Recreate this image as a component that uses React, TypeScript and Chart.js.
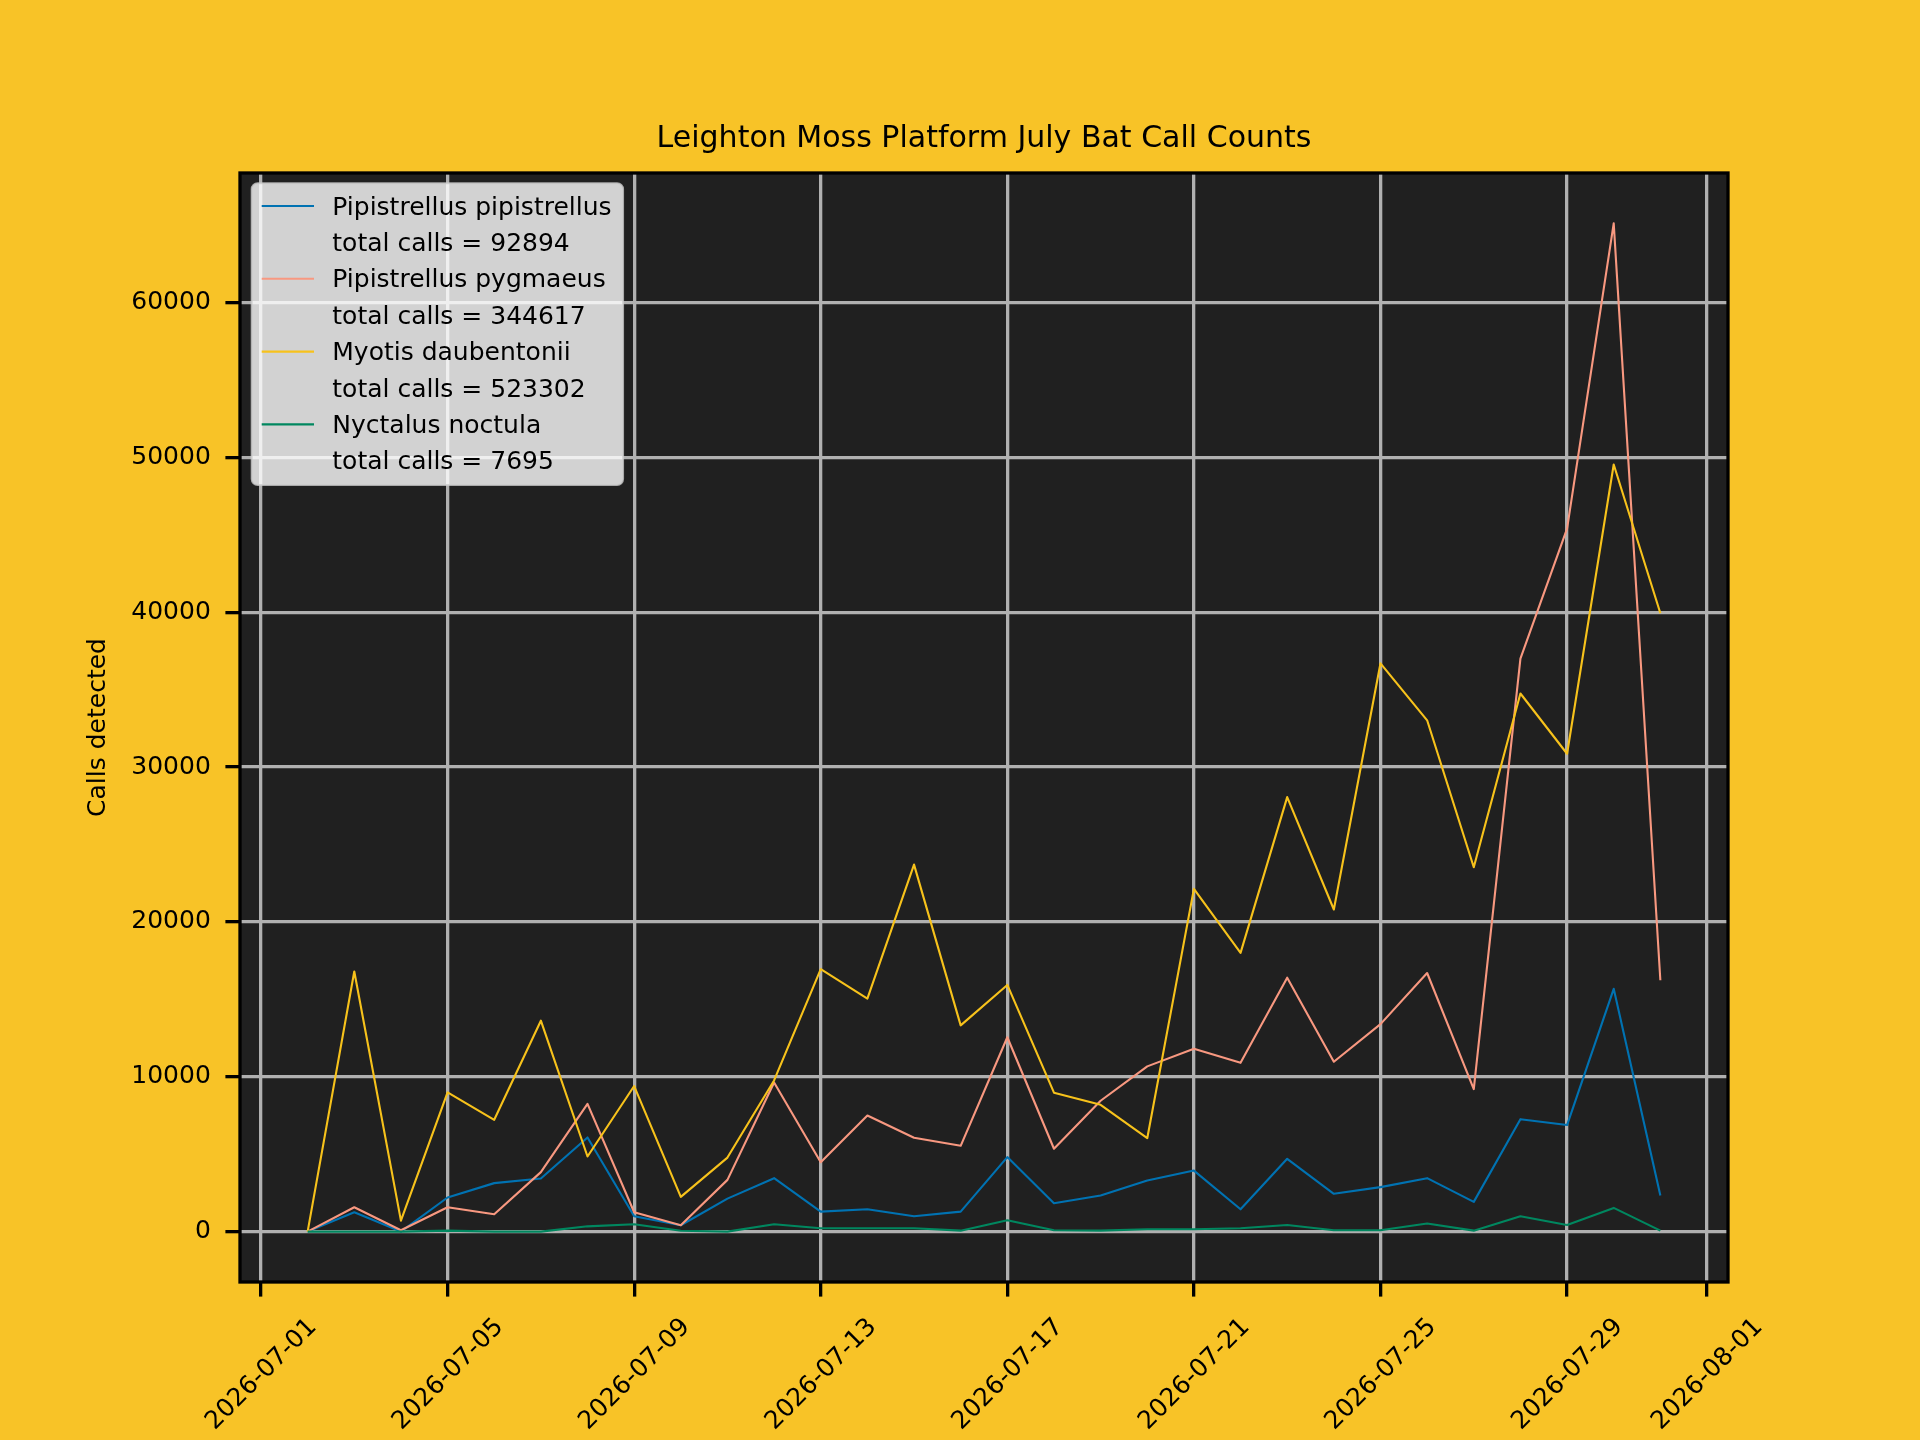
import { useEffect, useRef } from 'react';
import { Chart, registerables, type Plugin } from 'chart.js';

Chart.register(...registerables);
Chart.defaults.font.family = "'DejaVu Sans', 'Liberation Sans', sans-serif";
Chart.defaults.color = '#000000';

// nightly counts, 2 to 31 July
const dates = [
  '2026-07-02', '2026-07-03', '2026-07-04', '2026-07-05', '2026-07-06', '2026-07-07',
  '2026-07-08', '2026-07-09', '2026-07-10', '2026-07-11', '2026-07-12', '2026-07-13',
  '2026-07-14', '2026-07-15', '2026-07-16', '2026-07-17', '2026-07-18', '2026-07-19',
  '2026-07-20', '2026-07-21', '2026-07-22', '2026-07-23', '2026-07-24', '2026-07-25',
  '2026-07-26', '2026-07-27', '2026-07-28', '2026-07-29', '2026-07-30', '2026-07-31',
];
const pipistrellus = [
  0, 1250, 0, 2200, 3130, 3430, 6080, 990, 410, 2130, 3450, 1290, 1440, 990, 1290,
  4810, 1830, 2330, 3300, 3940, 1440, 4700, 2440, 2870, 3450, 1920, 7260, 6880, 15680, 2330,
];
const pygmaeus = [
  0, 1570, 90, 1570, 1120, 3840, 8250, 1250, 410, 3340, 9630, 4480, 7500, 6060, 5540,
  12550, 5350, 8450, 10670, 11810, 10900, 16400, 10970, 13400, 16700, 9200, 37000, 45400, 65110, 16230,
];
const daubentonii = [
  0, 16800, 710, 8990, 7220, 13620, 4850, 9400, 2240, 4780, 9760, 16950, 15050, 23700, 13320,
  15930, 8970, 8190, 6030, 22130, 18000, 28060, 20800, 36700, 33020, 23530, 34750, 30860, 49540, 39930,
];
const noctula = [
  0, 0, 0, 60, 0, 0, 340, 470, 50, 0, 470, 215, 215, 215, 60,
  730, 90, 60, 150, 150, 215, 430, 90, 90, 520, 60, 990, 430, 1530, 60,
];
const species = ['Pipistrellus pipistrellus', 'Pipistrellus pygmaeus', 'Myotis daubentonii', 'Nyctalus noctula'];
const totalCalls = [92894, 344617, 523302, 7695];
const xTickLabels = [
  '2026-07-01', '2026-07-05', '2026-07-09', '2026-07-13', '2026-07-17',
  '2026-07-21', '2026-07-25', '2026-07-29', '2026-08-01',
];
const yTicks = [0, 10000, 20000, 30000, 40000, 50000, 60000];

const series = [pipistrellus, pygmaeus, daubentonii, noctula];
const lineColors = ['#0072B2', '#F89880', '#F7C21B', '#00875F'];

// day number counted from 30 June, so 1 July = 1
const dayOf = (iso: string) => {
  const [y, m, d] = iso.split('-').map(Number);
  return (Date.UTC(y, m - 1, d) - Date.UTC(2026, 5, 30)) / 86400000;
};

const firstDay = dayOf(dates[0]);
const lastDay = dayOf(dates[dates.length - 1]);
const xPad = 0.05 * (lastDay - firstDay);
const peak = Math.max(...series.flat());

const gridStyle = { color: '#b0b0b0', lineWidth: 3.3, tickColor: '#000000', tickLength: 14.6, tickWidth: 3.3 };

const framePlugin: Plugin<'line'> = {
  id: 'frame',
  beforeDraw(chart) {
    const { ctx, chartArea: a } = chart;
    ctx.save();
    ctx.fillStyle = '#202020';
    ctx.fillRect(a.left, a.top, a.width, a.height);
    ctx.restore();
  },
  afterDatasetsDraw(chart) {
    const { ctx, chartArea: a } = chart;
    ctx.save();
    ctx.strokeStyle = '#000000';
    ctx.lineWidth = 3.3;
    ctx.strokeRect(a.left, a.top, a.width, a.height);

    // legend box, matplotlib style
    ctx.font = "25px 'DejaVu Sans', sans-serif";
    const rows = species.flatMap((s, i) => [
      { text: s, color: lineColors[i] as string | null },
      { text: `total calls = ${totalCalls[i]}`, color: null },
    ]);
    const rowH = 36.4;
    const maxW = Math.max(...rows.map((r) => ctx.measureText(r.text).width));
    const bx = a.left + 11.7;
    const by = a.top + 10.3;
    const bw = 80.6 + maxW + 11.5;
    const bh = 22.7 + (rows.length - 1) * rowH + 24.2;
    ctx.beginPath();
    ctx.roundRect(bx, by, bw, bh, 6);
    ctx.fillStyle = 'rgba(255,255,255,0.8)';
    ctx.fill();
    ctx.strokeStyle = 'rgba(204,204,204,0.8)';
    ctx.lineWidth = 2;
    ctx.stroke();
    rows.forEach((r, i) => {
      const y = by + 22.7 + i * rowH;
      if (r.color) {
        ctx.beginPath();
        ctx.moveTo(bx + 10, y);
        ctx.lineTo(bx + 62.3, y);
        ctx.strokeStyle = r.color;
        ctx.lineWidth = 2.1;
        ctx.stroke();
      }
      ctx.fillStyle = '#000000';
      ctx.textBaseline = 'alphabetic';
      ctx.textAlign = 'left';
      ctx.fillText(r.text, bx + 80.6, y + 8.5);
    });
    ctx.restore();
  },
};

function BatChart() {
  const canvas = useRef<HTMLCanvasElement>(null);
  useEffect(() => {
    if (!canvas.current) return;
    const chart = new Chart(canvas.current, {
      type: 'line',
      data: {
        datasets: species.map((name, i) => ({
          label: name,
          data: dates.map((d, j) => ({ x: dayOf(d), y: series[i][j] })),
          borderColor: lineColors[i],
          backgroundColor: lineColors[i],
          borderWidth: 2.1,
          borderJoinStyle: 'round' as const,
          pointRadius: 0,
          tension: 0,
          order: 3 - i,
        })),
      },
      options: {
        animation: false,
        responsive: false,
        devicePixelRatio: 1,
        events: [],
        layout: { padding: { left: 0, right: 192, top: 0, bottom: 0 } },
        plugins: {
          legend: { display: false },
          tooltip: { enabled: false },
          title: {
            display: true,
            text: 'Leighton Moss Platform July Bat Call Counts',
            fullSize: false,
            color: '#000000',
            font: { size: 30, weight: 'normal' },
            padding: { top: 121.5, bottom: 15.5 },
          },
        },
        scales: {
          x: {
            type: 'linear',
            min: firstDay - xPad,
            max: lastDay + xPad,
            afterBuildTicks: (axis) => {
              axis.ticks = xTickLabels.map((l) => ({ value: dayOf(l) }));
            },
            afterFit: (axis) => {
              axis.height = 158;
            },
            ticks: {
              autoSkip: false,
              minRotation: 45,
              maxRotation: 45,
              padding: 16,
              labelOffset: 52,
              font: { size: 25 },
              callback: (_v, i) => xTickLabels[i],
            },
            grid: gridStyle,
            border: { display: false },
          },
          y: {
            type: 'linear',
            min: -0.05 * peak,
            max: 1.05 * peak,
            afterBuildTicks: (axis) => {
              axis.ticks = yTicks.map((v) => ({ value: v }));
            },
            afterFit: (axis) => {
              axis.width = 240;
            },
            ticks: {
              padding: 14.6,
              font: { size: 25 },
              callback: (v) => String(v),
            },
            grid: gridStyle,
            border: { display: false },
            title: {
              display: true,
              text: 'Calls detected',
              font: { size: 25 },
              padding: { top: 83, bottom: 0 },
            },
          },
        },
      },
      plugins: [framePlugin],
    });
    return () => chart.destroy();
  }, []);
  return <canvas ref={canvas} width={1920} height={1440} style={{ width: 1920, height: 1440, display: 'block' }} />;
}

export default function App() {
  return (
    <div style={{ position: 'absolute', left: 0, top: 0, width: 1920, height: 1440, background: '#F8C327' }}>
      <BatChart />
    </div>
  );
}
